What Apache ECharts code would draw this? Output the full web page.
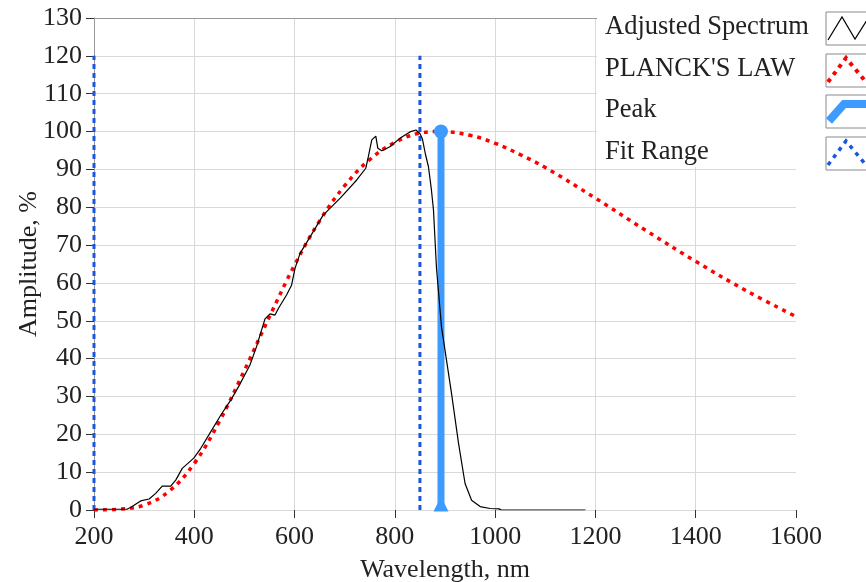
<!DOCTYPE html>
<html>
<head>
<meta charset="utf-8">
<script src="https://cdn.jsdelivr.net/npm/echarts@6/dist/echarts.min.js"></script>
<style>
html,body{margin:0;padding:0;background:#fff;}
#chart{width:866px;height:582px;}
</style>
</head>
<body>
<div id="chart"></div>
<script>
// ---- data ----
var spectrumNm = [200,266,276,293,310,323,336,353,363,376,399,413,433,453,473,490,511,524,541,551,561,568,584,594,601,611,627,657,691,724,742,747,754,762,766,774,790,810,830,842,850,855,861,867,873,877,883,893,903,913,927,940,953,970,990,1008,1012,1180];
var spectrumVal = [0.2,0.2,0.9,2.4,2.9,4.4,6.3,6.3,7.9,11.0,13.7,16.3,20.7,25.1,29.1,33.0,38.3,43.1,50.5,51.8,51.5,53.3,56.8,59.4,63.9,67.8,71.3,77.9,82.4,87.2,90.3,93.3,97.8,98.8,95.6,94.9,96.0,98.2,99.9,100.4,99.5,98.0,94.0,90.7,84.5,79.3,64.0,48.4,39.6,30.8,17.6,7.0,2.6,0.9,0.4,0.3,0,0];
var planckNm  = [200,250,300,350,400,450,500,550,600,650,700,750,800,850,892,950,1000,1050,1100,1200,1300,1400,1500,1600];
var planckVal = [0,0.2,1.3,5.0,12.3,23.4,36.9,51.1,64.7,76.4,85.7,92.6,97.1,99.6,100,99.0,96.9,93.9,90.5,82.4,73.9,65.7,58.0,51.1];
var peakNm = 892, peakVal = 100;
var fitRangeNm = [200, 850], fitRangeTop = 120;
var legendNames = ['Adjusted Spectrum', "PLANCK'S LAW", 'Peak', 'Fit Range'];
var xTicks = {min:200, max:1600, step:200};
var yTicks = {min:0, max:130, step:10};

function pairs(xs, ys){ return xs.map(function(x,i){ return [x, ys[i]]; }); }

var FONT = 'Liberation Serif';
var FS = 26;
var GRID = '#d9d9d9';
var chart = echarts.init(document.getElementById('chart'), null, {renderer:'canvas'});

var fitData = [[fitRangeNm[0],0],[fitRangeNm[0],fitRangeTop],[(fitRangeNm[0]+fitRangeNm[1])/2,'-'],[fitRangeNm[1],0],[fitRangeNm[1],fitRangeTop]];

// x split line colours: no line at the last tick
var nX = Math.round((xTicks.max - xTicks.min) / xTicks.step) + 1;
var xSplitColors = [];
for (var k = 0; k < nX; k++) xSplitColors.push(k === nX - 1 ? 'rgba(0,0,0,0)' : GRID);

// legend drawn as graphic (text on left, sample box on right)
var lgX = 605, lgY = [27,69,110,152], boxX = 826, boxW = 50, boxH = 33;
var graphics = [{type:'rect', shape:{x:597,y:0,width:269,height:167}, style:{fill:'#fff'}, z:100}];
var samples = [
  {points:[[828,40],[842,17],[855,39],[869,17]], style:{stroke:'#000', lineWidth:1.2, fill:null}},
  {points:[[828,82],[846,58],[866,82]], style:{stroke:'#ff0000', lineWidth:4, lineDash:[4,5], fill:null}},
  {points:[[829,121],[844,104],[866,104]], style:{stroke:'#3d9bff', lineWidth:8, fill:null}},
  {points:[[828,165],[846,141],[866,165]], style:{stroke:'#1a56e0', lineWidth:3.5, lineDash:[4,5], fill:null}}
];
legendNames.forEach(function(n,i){
  graphics.push({type:'text', x:lgX, y:lgY[i], z:101,
    style:{text:n, font:'26.5px "Liberation Serif"', fill:'#222', align:'left', verticalAlign:'middle'}});
  graphics.push({type:'rect', z:101, shape:{x:boxX, y:lgY[i]-15, width:boxW, height:boxH},
    style:{fill:'#fff', stroke:'#8a8a8a', lineWidth:1}});
  graphics.push({type:'polyline', z:102, shape:{points:samples[i].points}, style:samples[i].style});
});

var option = {
  backgroundColor:'#fff',
  animation:false,
  grid:{left:94, right:70, top:18, bottom:72, outerBoundsMode:'none', containLabel:false},
  xAxis:[{
    type:'value', min:xTicks.min, max:xTicks.max, interval:xTicks.step, offset:3,
    name:'Wavelength, nm', nameLocation:'middle', nameGap:44,
    nameTextStyle:{fontFamily:FONT, fontSize:FS, color:'#222'},
    axisLine:{show:false},
    axisTick:{show:true, length:8, lineStyle:{color:'#333', width:1}},
    axisLabel:{fontFamily:FONT, fontSize:FS, color:'#222', margin:11, formatter:function(v){ return String(v); }},
    splitLine:{show:true, showMaxLine:false, lineStyle:{color:xSplitColors, width:1}}
  },{
    type:'value', position:'top', min:xTicks.min, max:xTicks.max, interval:xTicks.step,
    axisLine:{show:true, onZero:false, lineStyle:{color:'#999', width:1}},
    axisTick:{show:false}, axisLabel:{show:false}, splitLine:{show:false}
  }],
  yAxis:{
    type:'value', min:yTicks.min, max:yTicks.max, interval:yTicks.step,
    name:'Amplitude, %', nameLocation:'middle', nameGap:52, nameMoveOverlap:false,
    nameTextStyle:{fontFamily:FONT, fontSize:FS, color:'#222'},
    axisLine:{show:true, lineStyle:{color:'#999', width:1}},
    axisTick:{show:true, length:8, lineStyle:{color:'#333', width:1}},
    axisLabel:{fontFamily:FONT, fontSize:FS, color:'#222', margin:12, formatter:function(v){ return String(v); }},
    splitLine:{show:true, lineStyle:{color:GRID, width:1}}
  },
  series:[
    {name:legendNames[1], type:'line', data:pairs(planckNm, planckVal), smooth:0.4, showSymbol:false, z:2,
     lineStyle:{color:'#ff0000', width:3.5, type:[4,5]}},
    {name:legendNames[3], type:'line', data:fitData, showSymbol:false, connectNulls:false, clip:false, z:3,
     lineStyle:{color:'#1a56e0', width:3, type:[5,4]}},
    {name:legendNames[2], type:'line', z:4, clip:false,
     data:[
       {value:[peakNm,0], symbol:'path://M3,0 L7,0 L10,6 L0,6 Z', symbolSize:[15,9], symbolOffset:[0,-3]},
       {value:[peakNm,peakVal], symbol:'circle', symbolSize:14}
     ],
     showSymbol:true, itemStyle:{color:'#3d9bff'},
     lineStyle:{color:'#3d9bff', width:7}},
    {name:legendNames[0], type:'line', data:pairs(spectrumNm, spectrumVal), showSymbol:false, z:5,
     lineStyle:{color:'#000', width:1.2}}
  ],
  graphic:graphics
};
chart.setOption(option);
</script>
</body>
</html>
